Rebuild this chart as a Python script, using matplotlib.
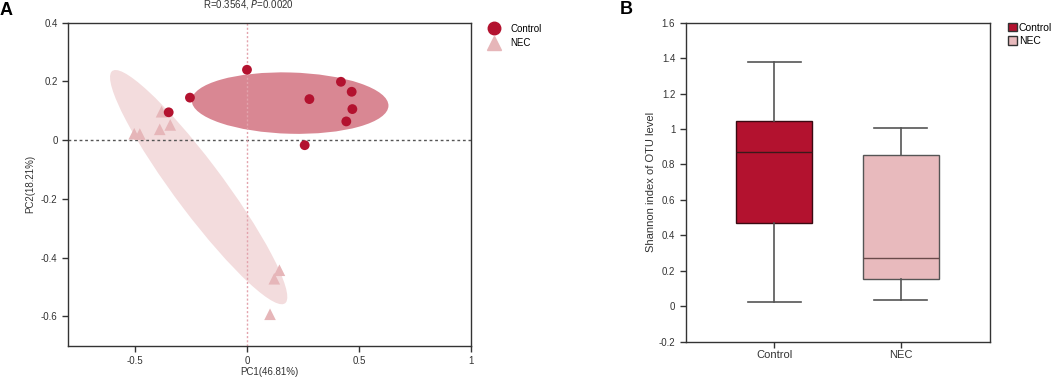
import numpy as np
import matplotlib
matplotlib.use("Agg")
import matplotlib.pyplot as plt
from matplotlib.patches import Ellipse, Patch
from matplotlib.lines import Line2D
from matplotlib.ticker import FuncFormatter

plt.rcParams['font.family'] = ['Liberation Sans', 'DejaVu Sans']

# ---------------- Data ----------------
# Panel A: PCoA coordinates
control_pc1 = [0.00, -0.255, -0.35, 0.279, 0.42, 0.468, 0.471, 0.444, 0.258]
control_pc2 = [0.24, 0.145, 0.095, 0.14, 0.199, 0.165, 0.106, 0.064, -0.017]
nec_pc1 = [-0.382, -0.343, -0.39, -0.504, -0.479, 0.145, 0.122, 0.103]
nec_pc2 = [0.097, 0.052, 0.037, 0.022, 0.021, -0.443, -0.472, -0.593]
stat_text = "R=0.3564, $\\it{P}$=0.0020"
pc1_label = "PC1(46.81%)"
pc2_label = "PC2(18.21%)"

# Panel B: Shannon index box statistics
groups = ["Control", "NEC"]
whisker_low = [0.026, 0.037]
q1 = [0.468, 0.155]
median = [0.869, 0.272]
q3 = [1.044, 0.855]
whisker_high = [1.376, 1.007]
shannon_label = "Shannon index of OTU level"

# ---------------- Style ----------------
c_ctrl = "#B3122F"
c_ctrl_ell = "#D98793"
c_nec = "#E6B6B9"
c_nec_ell = "#F3DCDD"
c_nec_box = "#E8BABD"
ELL_SCALE = 1.38
MINOR_SCALE = 1.6

fig = plt.figure(figsize=(10.53, 3.79), dpi=100)

# ---------------- Panel A ----------------
axA = fig.add_axes([0.0646, 0.0879, 0.3824, 0.852])


def conf_ellipse(ax, x, y, color, minor_scale):
    x = np.asarray(x); y = np.asarray(y)
    cov = np.cov(x, y)
    vals, vecs = np.linalg.eigh(cov)
    order = vals.argsort()[::-1]
    vals, vecs = vals[order], vecs[:, order]
    angle = np.degrees(np.arctan2(vecs[1, 0], vecs[0, 0]))
    e = Ellipse((x.mean(), y.mean()), 2 * ELL_SCALE * np.sqrt(vals[0]),
                2 * minor_scale * np.sqrt(vals[1]), angle=angle,
                facecolor=color, edgecolor='none', zorder=1)
    ax.add_patch(e)


conf_ellipse(axA, nec_pc1, nec_pc2, c_nec_ell, MINOR_SCALE)
conf_ellipse(axA, control_pc1, control_pc2, c_ctrl_ell, ELL_SCALE)

axA.axhline(0, color="#555555", lw=1.0, ls=(0, (2, 2)), zorder=2)
axA.axvline(0, color="#E3A3AC", lw=1.0, ls=(0, (1.5, 1.5)), zorder=2)

axA.scatter(nec_pc1, nec_pc2, marker='^', s=70, color=c_nec, edgecolor='none', zorder=3)
axA.scatter(control_pc1, control_pc2, marker='o', s=50, color=c_ctrl, edgecolor='none', zorder=4)

axA.set_xlim(-0.8, 1.0)
axA.set_ylim(-0.7, 0.4)
axA.set_xticks([-0.5, 0, 0.5, 1])
axA.set_yticks([0.4, 0.2, 0, -0.2, -0.4, -0.6])
fmt = FuncFormatter(lambda v, p: f"{v:g}" if abs(v) > 1e-9 else "0")
axA.xaxis.set_major_formatter(fmt)
axA.yaxis.set_major_formatter(fmt)
axA.tick_params(direction='out', length=4, width=1, labelsize=7, colors='#333333')
for s in axA.spines.values():
    s.set_color('#333333'); s.set_linewidth(1.0)
axA.set_xlabel(pc1_label, fontsize=7, color='#333333', labelpad=1)
axA.set_ylabel(pc2_label, fontsize=7, color='#333333', labelpad=4)
fig.text(0.236, 0.988, stat_text, fontsize=7, ha='center', va='center', color='#333333')

legA = [Line2D([], [], marker='o', ls='none', color=c_ctrl, markersize=9, label='Control'),
        Line2D([], [], marker='^', ls='none', color=c_nec, markersize=10, label='NEC')]
fig.legend(handles=legA, loc='upper left', bbox_to_anchor=(0.460, 0.948), frameon=False,
           fontsize=7, handletextpad=1.1, labelspacing=0.45, borderaxespad=0, handlelength=1.2)

# ---------------- Panel B ----------------
axB = fig.add_axes([0.6512, 0.0984, 0.2893, 0.8417])
stats = []
for i, g in enumerate(groups):
    stats.append(dict(label=g, whislo=whisker_low[i], q1=q1[i], med=median[i],
                      q3=q3[i], whishi=whisker_high[i], fliers=[]))
bp = axB.bxp(stats, positions=[1, 2], widths=0.6, patch_artist=True, showfliers=False,
             capwidths=0.42,
             whiskerprops=dict(color='#555555', lw=1.2),
             capprops=dict(color='#555555', lw=1.2),
             medianprops=dict(color='#3a1a1a', lw=1.0),
             boxprops=dict(lw=1.0))
box_colors = [c_ctrl, c_nec_box]
edge_colors = ['#3a0a12', '#555555']
for b, fc, ec in zip(bp['boxes'], box_colors, edge_colors):
    b.set_facecolor(fc); b.set_edgecolor(ec)
bp['medians'][1].set_color('#6a4a4a')

axB.set_xlim(0.3, 2.71)
axB.set_ylim(-0.2, 1.6)
axB.set_yticks(np.arange(-0.2, 1.61, 0.2))
axB.yaxis.set_major_formatter(FuncFormatter(lambda v, p: f"{round(v, 1):g}" if abs(v) > 1e-9 else "0"))
axB.set_xticks([1, 2])
axB.set_xticklabels(groups)
axB.tick_params(axis='y', direction='out', length=4, width=1, labelsize=7, colors='#333333')
axB.tick_params(axis='x', direction='out', length=4, width=1, labelsize=8, colors='#333333', pad=2)
for s in axB.spines.values():
    s.set_color('#333333'); s.set_linewidth(1.0)
axB.set_ylabel(shannon_label, fontsize=8, color='#333333', labelpad=2)

legB = [Patch(facecolor=c_ctrl, edgecolor='#333333', label='Control'),
        Patch(facecolor=c_nec_box, edgecolor='#333333', label='NEC')]
fig.legend(handles=legB, loc='upper left', bbox_to_anchor=(0.957, 0.94), frameon=False,
           fontsize=7.5, handletextpad=0.15, labelspacing=0.3, borderaxespad=0, borderpad=0,
           handlelength=0.9, handleheight=0.9)

fig.text(0.0, 0.972, "A", fontsize=13, fontweight='bold', ha='left', va='center')
fig.text(0.589, 0.975, "B", fontsize=13, fontweight='bold', ha='left', va='center')

fig.savefig("out.png", dpi=100)
